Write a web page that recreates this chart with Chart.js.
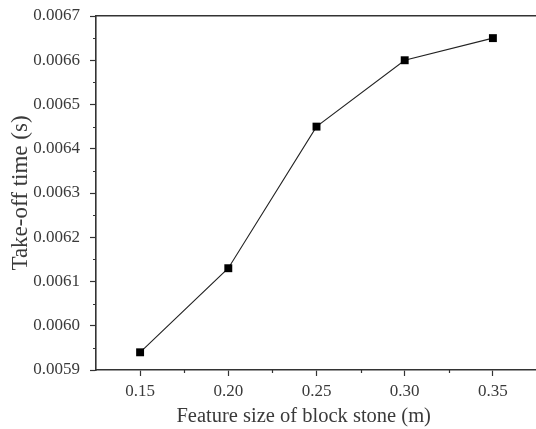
<!DOCTYPE html>
<html>
<head>
<meta charset="utf-8">
<script src="https://cdn.jsdelivr.net/npm/chart.js@4/dist/chart.umd.min.js"></script>
<style>
  html, body { margin: 0; padding: 0; background: #fff; }
  #wrap { width: 536px; height: 429px; overflow: hidden; position: relative; }
  #c { position: absolute; left: 0; top: 0; }
</style>
</head>
<body>
<div id="wrap"><canvas id="c" width="542" height="429"></canvas></div>
<script>
// Feature size of block stone (m) and the measured take-off time (s)
const featureSize = [0.15, 0.20, 0.25, 0.30, 0.35];
const takeOffTime = [0.00594, 0.00613, 0.00645, 0.00660, 0.00665];

// Axis ranges and tick steps
const xRange = [0.125, 0.375];
const yRange = [0.0059, 0.0067];
const yMajorStep = 0.0001;

const axisColor = '#333';
const textColor = '#3a3a3a';
const serif = "'Liberation Serif', 'DejaVu Serif', serif";

// Short minor ticks halfway between the major ones
const minorTicks = {
  id: 'minorTicks',
  afterDraw(chart) {
    const { ctx, scales } = chart;
    const xs = scales.x, ys = scales.y;
    ctx.save();
    ctx.strokeStyle = axisColor;
    ctx.lineWidth = 1.2;
    ctx.beginPath();
    for (let i = 0; i < featureSize.length - 1; i++) {
      const v = (featureSize[i] + featureSize[i + 1]) / 2;
      const px = Math.round(xs.getPixelForValue(v)) + 0.5;
      ctx.moveTo(px, xs.top);
      ctx.lineTo(px, xs.top + 3);
    }
    const nY = Math.round((yRange[1] - yRange[0]) / yMajorStep);
    for (let i = 0; i < nY; i++) {
      const v = yRange[0] + (i + 0.5) * yMajorStep;
      const py = Math.round(ys.getPixelForValue(v)) + 0.5;
      ctx.moveTo(ys.right, py);
      ctx.lineTo(ys.right - 3, py);
    }
    ctx.stroke();
    ctx.restore();
  }
};

new Chart(document.getElementById('c'), {
  type: 'scatter',
  data: {
    datasets: [{
      data: featureSize.map((x, i) => ({ x, y: takeOffTime[i] })),
      showLine: true,
      borderColor: '#222',
      borderWidth: 1.1,
      pointStyle: 'rect',
      pointRadius: 5.6,
      pointHoverRadius: 5.6,
      pointBackgroundColor: '#000',
      pointBorderColor: '#000',
      pointBorderWidth: 0
    }]
  },
  options: {
    responsive: false,
    animation: false,
    events: [],
    layout: { autoPadding: false, padding: { left: 0, top: 16, right: 5, bottom: 0 } },
    plugins: { legend: { display: false }, tooltip: { enabled: false } },
    scales: {
      x: {
        type: 'linear',
        position: 'bottom',
        min: xRange[0],
        max: xRange[1],
        afterBuildTicks(scale) {
          scale.ticks = featureSize.map(v => ({ value: v }));
        },
        afterFit(scale) {
          scale.height = 59;
          scale.paddingLeft = 0;
          scale.paddingRight = 0;
        },
        ticks: {
          color: textColor,
          font: { family: serif, size: 17 },
          padding: 5,
          maxRotation: 0,
          callback: v => v.toFixed(2)
        },
        grid: {
          drawOnChartArea: false,
          drawTicks: true,
          tickLength: 6,
          color: axisColor,
          tickWidth: 1.2
        },
        border: { display: true, color: axisColor, width: 1.6 },
        title: {
          display: true,
          text: 'Feature size of block stone (m)     ',
          color: textColor,
          font: { family: serif, size: 20.5 },
          padding: { top: 0, bottom: 0 }
        }
      },
      y: {
        type: 'linear',
        position: 'left',
        min: yRange[0],
        max: yRange[1],
        ticks: {
          stepSize: yMajorStep,
          color: textColor,
          font: { family: serif, size: 17 },
          padding: 10,
          callback: v => v.toFixed(4)
        },
        afterFit(scale) {
          scale.width = 96;
          scale.paddingTop = 0;
          scale.paddingBottom = 0;
        },
        grid: {
          drawOnChartArea: false,
          drawTicks: true,
          tickLength: 6,
          color: axisColor,
          tickWidth: 1.2
        },
        border: { display: true, color: axisColor, width: 1.6 },
        title: {
          display: true,
          text: 'Take-off time (s)',
          color: textColor,
          font: { family: serif, size: 23 },
          padding: { top: 7, bottom: 0 }
        }
      },
      xTop: {
        type: 'linear',
        position: 'top',
        min: xRange[0],
        max: xRange[1],
        afterFit(scale) { scale.height = 0; },
        ticks: { display: false },
        grid: { display: false, drawTicks: false },
        border: { display: true, color: axisColor, width: 1.6 }
      },
      yRight: {
        type: 'linear',
        position: 'right',
        min: yRange[0],
        max: yRange[1],
        afterFit(scale) {
          scale.width = 0;
          scale.paddingTop = 0;
          scale.paddingBottom = 0;
        },
        ticks: { display: false },
        grid: { display: false, drawTicks: false },
        border: { display: true, color: axisColor, width: 1.6 }
      }
    }
  },
  plugins: [minorTicks]
});
</script>
</body>
</html>
